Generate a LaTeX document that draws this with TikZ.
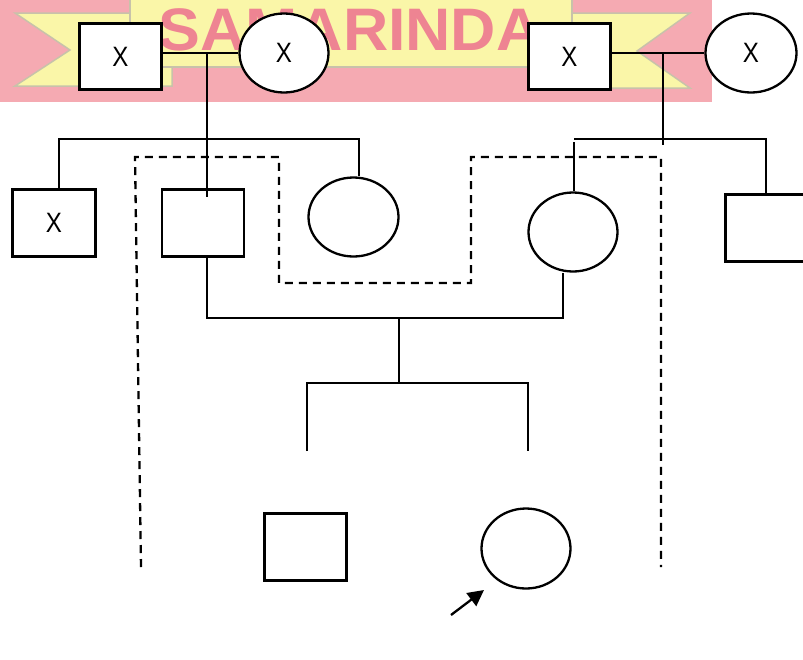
\documentclass[tikz,border=0pt]{standalone}
\usepackage{fontspec}
\setmainfont{Liberation Sans}
\newfontfamily\markfont[FakeStretch=1.045]{Liberation Sans}
\newfontfamily\pedfont[FakeStretch=0.86]{Liberation Sans}
\usetikzlibrary{shapes.geometric,arrows.meta,calc}
\definecolor{bandpink}{RGB}{245,170,178}
\definecolor{bandyellow}{RGB}{250,246,168}
\definecolor{bandedge}{RGB}{200,194,170}
\definecolor{marktext}{RGB}{238,132,146}

\begin{document}
\begin{tikzpicture}[x=1pt,y=-1pt,
  line width=2.3pt,
  sym/.style={draw,fill=white,inner sep=0pt,font=\pedfont\fontsize{28}{28}\selectfont},
  male/.style={sym,rectangle,minimum width=82pt,minimum height=66pt},
  female/.style={sym,ellipse,minimum width=89pt,minimum height=79pt},
  relline/.style={dash pattern=on 8pt off 6pt},
  probarrow/.style={-{Triangle[length=16pt,width=16pt]}}
]
\clip (0,0) rectangle (803,659);
\fill[white] (0,0) rectangle (803,659);

% banner behind the first generation
\fill[bandpink] (0,0) rectangle (712,102);
\filldraw[fill=bandyellow,draw=bandedge,line width=1.5pt]
  (15,13) -- (172,13) -- (172,86) -- (15,86) -- (70,50) -- cycle;
\filldraw[fill=bandyellow,draw=bandedge,line width=1.5pt]
  (560,13) -- (690,13) -- (637,51) -- (690,88) -- (560,88) -- cycle;
\filldraw[fill=bandyellow,draw=bandedge,line width=1.5pt]
  (130,-2) -- (130,67) -- (572,67) -- (572,-2);
\node[font=\markfont\bfseries\fontsize{60}{60}\selectfont,text=marktext,inner sep=0pt]
  (mark) at (350,30) {SAMARINDA};

% individuals
\node[male] (gfA) at (120.5,56.5) {X};
\node[female] (gmA) at (284,53) {X};
\node[male] (gfB) at (569.5,56.5) {X};
\node[female,minimum width=91pt] (gmB) at (751,53) {X};
\node[male,minimum width=83pt,minimum height=67pt] (unc) at (54,223) {X};
\node[male,minimum height=67pt] (fa) at (203,223) {};
\node[female,minimum width=90pt] (aunt) at (353.5,217) {};
\node[female] (mo) at (573,232) {};
\node[male,minimum height=67pt] (unc2) at (766.5,228) {};
\node[male,minimum height=67pt] (sib) at (305.5,547) {};
\node[female,minimum height=80pt] (prob) at (526,548.5) {};

% first family
\coordinate (mA) at (207,53);
\coordinate (barAl) at (59,139);
\coordinate (barAr) at (359,139);
\draw (gfA.east |- gmA.west) -- (gmA.west);
\draw (mA) -- ([yshift=-9pt]mA |- fa.north);
\draw (barAl |- unc.north) -- (barAl) -- (barAr) -- (barAr |- aunt.north);

% second family
\coordinate (mB) at (663,53);
\coordinate (mBend) at (663,145);
\coordinate (barBl) at (574,139);
\coordinate (barBr) at (766,139);
\draw (gfB.east |- gmB.west) -- (gmB.west);
\draw (mB) -- (mBend);
\draw (barBl) -- (barBr) -- (barBr |- unc2.north);
\draw ([yshift=-3pt]barBl) -- (barBl |- mo.north);

% parents of the proband
\coordinate (cl) at (207,318);
\coordinate (cr) at (563,318);
\coordinate (cm) at (399,318);
\coordinate (sibC) at (399,383);
\coordinate (bl) at (307,383);
\coordinate (br) at (528,383);
\coordinate (blE) at (307,451);
\coordinate (brE) at (528,451);
\draw (cl |- fa.south) -- (cl) -- (cr) -- (cr |- mo.south);
\draw (cm) -- (sibC);
\draw (blE) -- (bl) -- (br) -- (brE);

% dashed outline
\coordinate (d1) at (141,567);
\coordinate (d2) at (135,157);
\coordinate (d3) at (279,157);
\coordinate (d4) at (279,283);
\coordinate (d5) at (471,283);
\coordinate (d6) at (471,157);
\coordinate (d7) at (661,157);
\coordinate (d8) at (661,567);
\draw[relline] (d1) -- (d2) -- (d3) -- (d4) -- (d5) -- (d6) -- (d7) -- (d8);

% proband arrow
\coordinate (arrS) at (451,615);
\coordinate (arrE) at (484,590);
\draw[probarrow] (arrS) -- (arrE);
\end{tikzpicture}
\end{document}
